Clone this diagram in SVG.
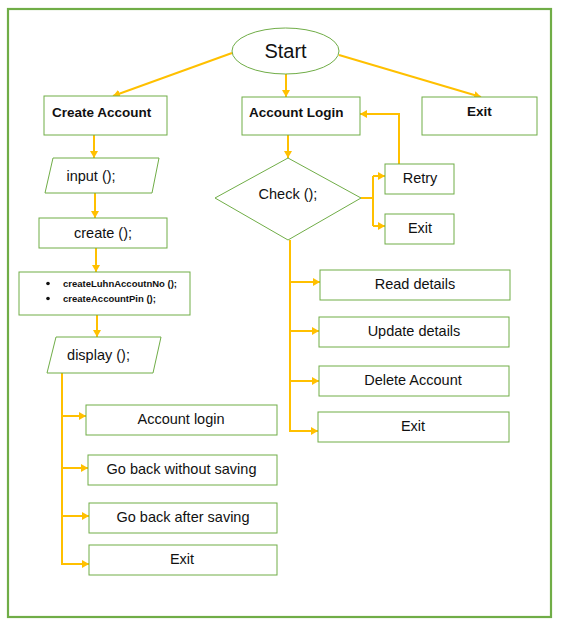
<svg xmlns="http://www.w3.org/2000/svg" width="561" height="628" viewBox="0 0 561 628">
<defs>
<style>
.frame{fill:#fff;stroke:#70ad47;stroke-width:2.2}
.nd{fill:#fff;stroke:#70ad47;stroke-width:1}
.t{font-family:"Liberation Sans",Arial,sans-serif;font-size:14.5px;fill:#111;text-anchor:middle}
.b{font-family:"Liberation Sans",Arial,sans-serif;font-size:13.5px;font-weight:bold;fill:#111}
.s{font-family:"Liberation Sans",Arial,sans-serif;font-size:9.5px;font-weight:bold;fill:#111}
.c{fill:none;stroke:#ffc000;stroke-width:2}
.a{fill:none;stroke:#ffc000;stroke-width:2;marker-end:url(#ah)}
</style>
<marker id="ah" markerUnits="userSpaceOnUse" markerWidth="10" markerHeight="10" refX="7" refY="4" orient="auto">
<path d="M0,0 L7,4 L0,8 Z" fill="#ffc000"/>
</marker>
</defs>
<rect x="0" y="0" width="561" height="628" fill="#fff"/>
<rect class="frame" x="8" y="9" width="543" height="608"/>

<g id="connectors">
<path class="a" d="M232,53 L113,96"/>
<path class="a" d="M286,74 L286,97"/>
<path class="a" d="M339,55 L481,97"/>
<path class="a" d="M94,135 L94,158"/>
<path class="a" d="M95,193 L95,218"/>
<path class="a" d="M96,248 L96,272"/>
<path class="a" d="M97,315 L97,337"/>
<path class="a" d="M62,373 V564 H89"/>
<path class="a" d="M62,416 H86"/>
<path class="a" d="M62,468 H88"/>
<path class="a" d="M62,516 H89"/>
<path class="a" d="M288,135 L288,158"/>
<path class="c" d="M361,198 H373"/>
<path class="c" d="M373,176 V226"/>
<path class="a" d="M373,176 H385"/>
<path class="a" d="M373,226 H385"/>
<path class="a" d="M399,164 V114 H360"/>
<path class="a" d="M290,240 V431 H318"/>
<path class="a" d="M290,282 H320"/>
<path class="a" d="M290,331 H319"/>
<path class="a" d="M290,381 H319"/>
</g>

<g id="start">
<ellipse class="nd" cx="285.5" cy="51" rx="53.5" ry="23"/>
<text class="t" x="285.5" y="58" style="font-size:20px">Start</text>
</g>
<g id="create-account">
<rect class="nd" x="44" y="96" width="123" height="39"/>
<text class="b" x="52" y="117">Create Account</text>
</g>
<g id="account-login">
<rect class="nd" x="242" y="97" width="118" height="38"/>
<text class="b" x="249" y="117">Account Login</text>
</g>
<g id="exit-top">
<rect class="nd" x="422" y="97" width="115" height="38"/>
<text class="b" x="479.5" y="116" text-anchor="middle">Exit</text>
</g>
<g id="input">
<polygon class="nd" points="53,158 159,158 152,193 45,193"/>
<text class="t" x="91" y="181">input ();</text>
</g>
<g id="create">
<rect class="nd" x="39" y="218" width="128" height="30"/>
<text class="t" x="103" y="238">create ();</text>
</g>
<g id="create-steps">
<rect class="nd" x="19" y="272" width="171" height="43"/>
<circle cx="48" cy="283.5" r="1.8" fill="#111"/>
<circle cx="48" cy="298.5" r="1.8" fill="#111"/>
<text class="s" x="63" y="287">createLuhnAccoutnNo ();</text>
<text class="s" x="63" y="302">createAccountPin ();</text>
</g>
<g id="display">
<polygon class="nd" points="56,337 161,337 153,373 47,373"/>
<text class="t" x="98.5" y="360">display ();</text>
</g>
<g id="account-login-opt">
<rect class="nd" x="86" y="405" width="191" height="30"/>
<text class="t" x="181" y="424">Account login</text>
</g>
<g id="go-back-without">
<rect class="nd" x="88" y="455" width="189" height="30"/>
<text class="t" x="181.5" y="474">Go back without saving</text>
</g>
<g id="go-back-after">
<rect class="nd" x="89" y="503" width="188" height="30"/>
<text class="t" x="183" y="522">Go back after saving</text>
</g>
<g id="exit-left">
<rect class="nd" x="89" y="545" width="188" height="30"/>
<text class="t" x="182" y="564">Exit</text>
</g>
<g id="check">
<polygon class="nd" points="288,158 361,198 288,240 215,198"/>
<text class="t" x="288" y="199">Check ();</text>
</g>
<g id="retry">
<rect class="nd" x="385" y="164" width="69" height="30"/>
<text class="t" x="420" y="183">Retry</text>
</g>
<g id="exit-mid">
<rect class="nd" x="385" y="214" width="69" height="30"/>
<text class="t" x="420" y="233">Exit</text>
</g>
<g id="read-details">
<rect class="nd" x="320" y="270" width="190" height="30"/>
<text class="t" x="415" y="289">Read details</text>
</g>
<g id="update-details">
<rect class="nd" x="319" y="317" width="190" height="30"/>
<text class="t" x="414" y="336">Update details</text>
</g>
<g id="delete-account">
<rect class="nd" x="319" y="366" width="190" height="30"/>
<text class="t" x="413" y="385">Delete Account</text>
</g>
<g id="exit-right">
<rect class="nd" x="318" y="412" width="191" height="30"/>
<text class="t" x="413" y="431">Exit</text>
</g>
</svg>
